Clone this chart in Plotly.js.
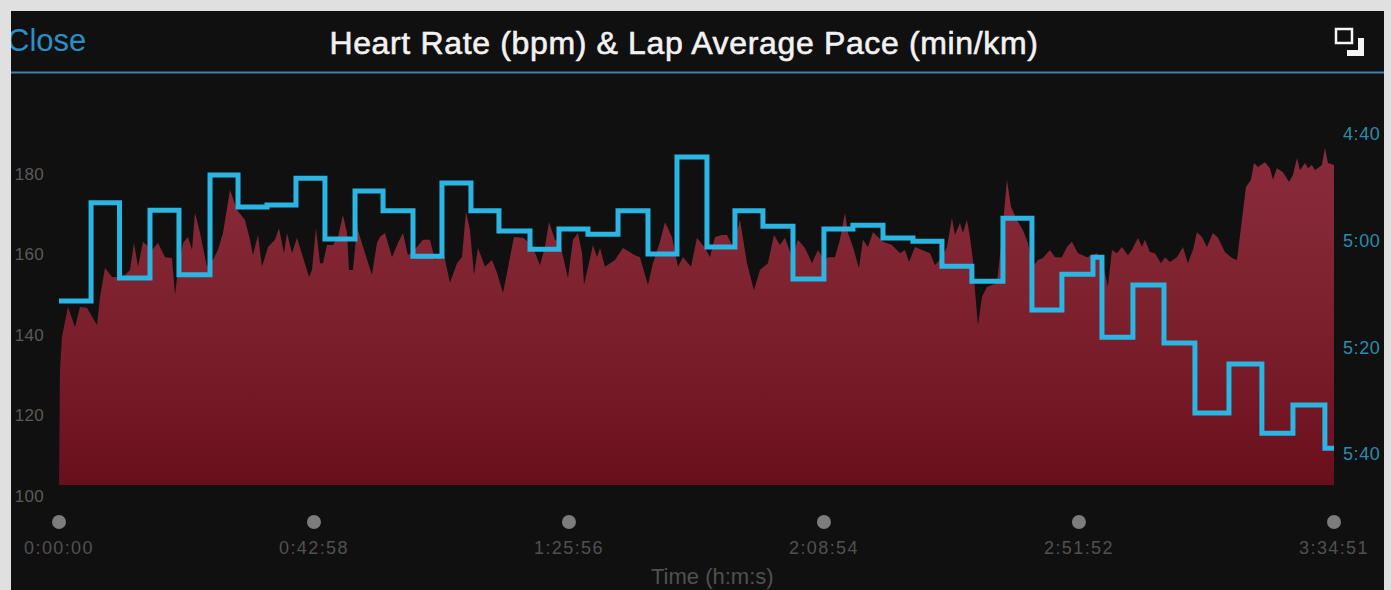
<!DOCTYPE html>
<html>
<head>
<meta charset="utf-8">
<script src="https://cdn.plot.ly/plotly-3.0.1.min.js"></script>
<style>
html,body{margin:0;padding:0;background:#e0e0e0;overflow:hidden}
#chart{position:absolute;left:0;top:0;width:1391px;height:590px}
#edge{position:absolute;left:0;top:0;width:11px;height:590px;background:#e0e0e0}
.xtick text{letter-spacing:1.4px}
.y2tick text{letter-spacing:.6px}
.ytick text{letter-spacing:.3px}
.gtitle{letter-spacing:.65px;stroke:#f2f2f2;stroke-width:.6px}
</style>
</head>
<body>
<div id="chart"></div>
<div id="edge"></div>
<script>
// Heart rate samples: elapsed seconds and bpm
var hrTime = [0,10,30,91,162,212,283,334,384,415,465,536,596,647,718,758,799,849,940,1001,1072,1142,1173,1203,1254,1304,1345,1375,1426,1456,1496,1557,1607,1658,1729,1800,1880,1931,1961,2012,2052,2113,2184,2224,2275,2305,2356,2406,2467,2528,2558,2598,2639,2669,2709,2770,2821,2871,2912,2932,2972,3013,3094,3164,3215,3245,3296,3367,3427,3478,3528,3619,3680,3751,3801,3882,3953,4024,4074,4115,4155,4196,4236,4307,4378,4428,4489,4539,4600,4691,4782,4863,4913,4954,5015,5065,5146,5197,5247,5288,5308,5358,5399,5439,5470,5520,5621,5702,5823,5874,5955,6005,6076,6127,6197,6258,6309,6390,6450,6531,6582,6632,6703,6754,6814,6885,6956,7026,7087,7168,7229,7289,7340,7411,7471,7542,7613,7673,7734,7775,7845,7896,7947,7977,8027,8088,8128,8179,8230,8331,8422,8503,8553,8594,8654,8725,8806,8857,8927,8978,9028,9059,9109,9139,9180,9210,9240,9261,9291,9332,9382,9483,9534,9584,9625,9685,9746,9797,9847,9898,9948,10019,10070,10140,10191,10241,10302,10393,10494,10555,10605,10646,10696,10747,10807,10848,10909,10949,10979,11030,11080,11141,11182,11232,11303,11364,11414,11465,11505,11556,11606,11667,11718,11788,11859,11910,11940,11970,12001,12051,12082,12122,12193,12243,12274,12314,12375,12436,12476,12517,12547,12598,12628,12668,12699,12769,12799,12830,12881,12891];
var hrBpm = [100,128.6,136.8,144.2,139.2,144.2,144.0,141.7,139.7,146.7,153.9,151.7,151.7,151.7,153.4,160.1,154.2,160.4,158.4,160.1,156.6,156.4,147.2,153.4,160.1,161.6,158.4,167.6,162.6,159.1,154.2,155.9,158.4,162.6,173.3,168.3,165.8,160.9,157.1,162.1,154.2,159.1,160.9,163.8,157.6,162.6,157.6,161.4,156.6,151.7,153.4,163.8,155.1,155.1,159.6,159.6,161.6,167.1,162.6,153.4,153.4,164.1,157.6,152.2,160.1,161.6,162.6,156.6,160.1,162.6,157.1,159.1,160.9,160.9,155.9,158.4,150.2,155.1,156.6,167.8,163.3,152.2,158.9,154.2,155.9,152.7,147.7,154.2,161.6,161.4,159.6,154.6,159.1,165.3,160.9,160.1,151.4,160.9,162.6,157.6,149.7,155.1,159.6,156.6,158.9,154.2,155.9,158.9,157.1,156.6,149.7,155.1,160.4,165.3,161.6,154.2,156.6,154.2,161.4,158.9,156.6,161.6,162.1,162.1,159.1,165.8,155.1,148.4,153.4,155.1,162.1,159.6,161.4,156.6,160.9,158.9,155.1,158.4,155.9,156.6,156.6,160.9,167.6,162.6,159.1,153.9,160.9,159.1,162.8,160.4,159.6,157.6,158.4,155.4,159.1,158.4,157.6,154.6,156.6,159.1,166.3,162.1,165.1,162.6,165.8,161.6,155.9,148.4,139.7,146.7,149.2,150.2,161.6,175.8,169.1,165.8,163.3,160.1,154.2,155.9,156.4,158.4,156.6,156.6,159.1,160.4,157.6,156.6,157.6,155,149.2,158.4,157.6,159.1,157.1,158.4,161.4,159.1,160.9,157.9,157.6,155.1,156.6,155.4,156.6,159.1,155.1,158.4,162.8,161.6,159.1,162.6,161.4,157.9,156.4,155.9,161.6,167.6,174.0,175.8,180.0,179.0,180.2,178.7,175.8,178.7,177.7,175.3,177.0,181.2,178.2,180.0,178.7,179.5,178.2,179.5,183.7,180.0,179.5,179.5];

// Lap edges (seconds) and each lap's average pace (seconds per km)
var lapEdges = [0,324,612,920,1213,1527,1810,2103,2396,2689,2993,3276,3579,3872,4165,4448,4762,5055,5348,5652,5955,6248,6551,6834,7117,7421,7734,8027,8331,8634,8927,9230,9544,9837,10140,10454,10545,10858,11172,11485,11829,12162,12476,12799,12891];
var lapPace = [311.3,292.9,307,294.3,306.4,287.7,293.7,293.3,288.3,299.7,290.7,294.4,302.9,289.2,294.4,298.2,301.6,297.8,298.8,294.4,302.5,284.3,301.2,294.4,297.3,307.2,297.8,297.1,299.5,300.1,304.8,307.6,295.8,313,306.3,303.1,318.1,308.3,319.2,332.3,323.1,336.1,330.8,338.9,338.9];

// Axis ticks
var timeTicks = [0,2578,5156,7734,10312,12891];
var timeLabels = ['0:00:00','0:42:58','1:25:56','2:08:54','2:51:52','3:34:51'];
var hrTicks = [100,120,140,160,180];
var paceTicks = [280,300,320,340];
var paceLabels = ['4:40','5:00','5:20','5:40'];
var dotLevel = [1,1,1,1,1,1];

// Page geometry helpers for the panel furniture
var W = 1391, H = 590, L = 59, R = 57, T = 120, B = 55;
function px(x){ return (x - L) / (W - L - R); }
function py(y){ return (H - B - y) / (H - T - B); }
function box(x0,y0,x1,y1,fill,layer){
  return {type:'rect',xref:'paper',yref:'paper',x0:px(x0),x1:px(x1),y0:py(y0),y1:py(y1),
          fillcolor:fill,line:{width:0},layer:layer};
}

var FONT = '"Liberation Sans", Arial, sans-serif';

var traces = [
  {x:hrTime,y:hrBpm,type:'scatter',mode:'lines',line:{width:0,color:'#7f2330'},fill:'tozeroy',
   fillgradient:{type:'vertical',start:100,stop:184,
     colorscale:[[0,'#690f1b'],[0.3,'#751a26'],[0.6,'#7f2330'],[1,'#8a2b3d']]},
   hoverinfo:'skip',showlegend:false},
  {x:lapEdges,y:lapPace,yaxis:'y2',type:'scatter',mode:'lines',
   line:{shape:'hv',width:5,color:'#2ab5e2'},showlegend:false},
  {x:timeTicks,y:dotLevel,yaxis:'y3',type:'scatter',mode:'markers',cliponaxis:false,
   marker:{size:14,color:'#7c7c7c'},hoverinfo:'skip',showlegend:false}
];

var layout = {
  width:W,height:H,
  margin:{l:L,r:R,t:T,b:B,pad:0},
  paper_bgcolor:'#e0e0e0',plot_bgcolor:'rgba(0,0,0,0)',
  showlegend:false,
  font:{family:FONT},
  title:{text:'Heart Rate (bpm) & Lap Average Pace (min/km)',
         font:{family:FONT,size:32,color:'#f2f2f2'},
         x:684/W,xanchor:'center',y:1-43/H,yanchor:'middle'},
  xaxis:{range:[0,12891],anchor:'y3',tickmode:'array',tickvals:timeTicks,ticktext:timeLabels,
         showgrid:false,zeroline:false,showline:false,ticks:'',
         tickfont:{family:FONT,size:18,color:'#505050'},ticklabelstandoff:0},
  yaxis:{domain:[50/415,1],range:[100,190.67],tickmode:'array',tickvals:hrTicks,
         showgrid:false,zeroline:false,showline:false,ticks:'',
         tickfont:{family:FONT,size:17,color:'#5a5a5a'},ticklabelstandoff:14,ticklabelshift:11},
  yaxis2:{range:[345.81,277.37],overlaying:'y',side:'right',anchor:'x',tickmode:'array',
         tickvals:paceTicks,ticktext:paceLabels,
         showgrid:false,zeroline:false,showline:false,ticks:'',
         tickfont:{family:FONT,size:18,color:'#2b8cab'},ticklabelstandoff:8},
  yaxis3:{domain:[0,26/415],range:[0,2],visible:false,anchor:'x'},
  shapes:[
    box(11,11,1384,590,'#101010','below'),
    box(11,71.5,1384,73.5,'#3f80ad','below'),
    {type:'rect',xref:'paper',yref:'paper',x0:px(1336),x1:px(1352),y0:py(29),y1:py(43),
     fillcolor:'rgba(0,0,0,0)',line:{color:'#f4f4f4',width:2.5},layer:'above'},
    box(1358,38,1364,56,'#f4f4f4','above'),
    box(1347,50,1364,56,'#f4f4f4','above')
  ],
  annotations:[
    {xref:'paper',yref:'paper',x:px(5),y:py(41),xanchor:'left',yanchor:'middle',showarrow:false,
     text:'Close',font:{family:FONT,size:31,color:'#2a8fc6'}},
    {xref:'paper',yref:'paper',x:px(712),y:py(576),xanchor:'center',yanchor:'middle',showarrow:false,
     text:'Time (h:m:s)',font:{family:FONT,size:22,color:'#505050'}}
  ]
};

Plotly.newPlot('chart',traces,layout,{displayModeBar:false,staticPlot:true});
</script>
</body>
</html>
